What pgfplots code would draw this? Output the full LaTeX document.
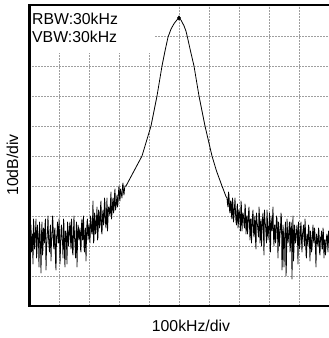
\documentclass[border=0pt]{standalone}
\usepackage{pgfplots}
\pgfplotsset{compat=1.18}
\usepackage{fontspec}
\setmainfont{Liberation Sans}

\begin{document}
\begin{tikzpicture}
\begin{axis}[
    scale only axis,
    width=300bp, height=300bp,
    xmin=0, xmax=300, ymin=0, ymax=100,
    xtick={30,60,...,270}, ytick={10,20,...,90},
    xticklabels={}, yticklabels={},
    major tick length=0pt,
    axis line style={draw=none},
    grid=major,
    major grid style={gray!75, line width=0.6bp, dash pattern=on 2bp off 1bp},
    clip=false,
]
% white label box over the grid
\fill[white] (rel axis cs:0,1) rectangle (axis cs:125,84.3);

% spectrum trace: left noise floor, peak, right noise floor (x in px, y in dB)
\addplot[black, line width=0.8bp, line join=round] coordinates {
(0,24) (0.5,21) (1,17) (1.5,26) (2,27) (2.5,18) (3,20) (3.5,24) (4,14) (4.5,29) (5,26) (5.5,19) (6,22) (6.5,25) (7,29) (7.5,16) (8,18) (8.5,27) (9,23) (9.5,22)
(10,13) (10.5,28) (11,25) (11.5,20) (12,11) (12.5,24) (13,28) (13.5,17) (14,19) (14.5,26) (15,24) (15.5,21) (16,27) (16.5,29) (17,12) (17.5,19) (18,22) (18.5,25) (19,30) (19.5,23)
(20,20) (20.5,18) (21,25) (21.5,27) (22,15) (22.5,22) (23,23) (23.5,30) (24,28) (24.5,20) (25,19) (25.5,25) (26,26) (26.5,15) (27,12) (27.5,23) (28,24) (28.5,28) (29,21) (29.5,21)
(30,29) (30.5,24) (31,14) (31.5,19) (32,25) (32.5,27) (33,22) (33.5,22) (34,16) (34.5,29) (35,27) (35.5,17) (36,13) (36.5,25) (37,24) (37.5,21) (38,14) (38.5,28) (39,26) (39.5,20)
(40,23) (40.5,26) (41,28) (41.5,22) (42,19) (42.5,29) (43,25) (43.5,18) (44,17) (44.5,25) (45,30) (45.5,23) (46,21) (46.5,16) (47,24) (47.5,28) (48,13) (48.5,21) (49,27) (49.5,26)
(50,22) (50.5,24) (51,26) (51.5,19) (52,18) (52.5,27) (53,29) (53.5,22) (54,23) (54.5,30) (55,20) (55.5,18) (56,25) (56.5,26) (57,15) (57.5,23) (58,28) (58.5,29) (59,22) (59.5,24)
(60,27) (60.5,23) (61,21) (61.5,30) (62,29) (62.5,25) (63,24) (63.5,28) (64,35) (64.5,21) (65,22) (65.5,31) (66,30) (66.5,24) (67,26) (67.5,29) (68,33) (68.5,22) (69,23) (69.5,32)
(70,31) (70.5,26) (71,27) (71.5,33) (72,35) (72.5,25) (73,24) (73.5,30) (74,32) (74.5,27) (75,28) (75.5,36) (76,34) (76.5,28) (77,26) (77.5,31) (78,36) (78.5,25) (79,29) (79.5,33)
(80,33) (80.5,31) (81,30) (81.5,35) (82,38) (82.5,29) (83,31) (83.5,34) (84,36) (84.5,31) (85,32) (85.5,37) (86,39) (86.5,32) (87,33) (87.5,35) (88,37) (88.5,33) (89,34) (89.5,38)
(90,40) (90.5,36) (91,35) (91.5,39) (92,38) (92.5,37) (93,36) (93.5,40) (94,41) (94.5,38) (95,37) (95.5,39) (96,40)
(97,40) (101,42.5) (105,45) (109,47.5) (113,50) (117.5,55) (122,60) (125,65)
(128,70) (130.5,75) (133,80) (136,85) (139,89.6) (142,92.3) (145,94.1) (148,95.4)
(150,96) (152,95.3) (155,93.4) (157,91.6) (158.5,89.5) (161.5,85) (165,80) (167.5,75)
(170,70) (173,65) (176,60) (179.5,55) (183,50) (187.5,45) (193,40) (197,36.5)
(198,36) (198.5,34) (199,33) (199.5,38) (200,37) (200.5,32) (201,31) (201.5,35) (202,35) (202.5,30) (203,29) (203.5,36) (204,34) (204.5,28) (205,30) (205.5,33) (206,36) (206.5,31) (207,28) (207.5,27)
(208,33) (208.5,34) (209,26) (209.5,28) (210,32) (210.5,31) (211,29) (211.5,25) (212,35) (212.5,33) (213,25) (213.5,29) (214,31) (214.5,30) (215,27) (215.5,26) (216,34) (216.5,32) (217,24) (217.5,28)
(218,30) (218.5,24) (219,27) (219.5,31) (220,33) (220.5,27) (221,22) (221.5,29) (222,29) (222.5,21) (223,26) (223.5,30) (224,32) (224.5,25) (225,23) (225.5,28) (226,30) (226.5,22) (227,19) (227.5,31)
(228,28) (228.5,27) (229,25) (229.5,23) (230,33) (230.5,30) (231,21) (231.5,26) (232,29) (232.5,20) (233,26) (233.5,29) (234,31) (234.5,24) (235,17) (235.5,32) (236,28) (236.5,27) (237,24) (237.5,21)
(238,32) (238.5,28) (239,22) (239.5,25) (240,27) (240.5,31) (241,19) (241.5,18) (242,30) (242.5,26) (243,25) (243.5,29) (244,33) (244.5,23) (245,20) (245.5,27) (246,27) (246.5,21) (247,23) (247.5,30)
(248,29) (248.5,25) (249,16) (249.5,28) (250,26) (250.5,20) (251,24) (251.5,26) (252,31) (252.5,29) (253,12) (253.5,17) (254,27) (254.5,24) (255,13) (255.5,22) (256,25) (256.5,28) (257,10) (257.5,15)
(258,29) (258.5,25) (259,21) (259.5,23) (260,26) (260.5,28) (261,18) (261.5,20) (262,28) (262.5,26) (263,9) (263.5,24) (264,30) (264.5,15) (265,19) (265.5,27) (266,25) (266.5,21) (267,22) (267.5,25)
(268,27) (268.5,23) (269,14) (269.5,28) (270,24) (270.5,19) (271,21) (271.5,26) (272,28) (272.5,22) (273,18) (273.5,24) (274,25) (274.5,27) (275,22) (275.5,20) (276,29) (276.5,25) (277,17) (277.5,16)
(278,24) (278.5,23) (279,20) (279.5,27) (280,26) (280.5,21) (281,15) (281.5,25) (282,23) (282.5,18) (283,19) (283.5,24) (284,27) (284.5,22) (285,21) (285.5,26) (286,24) (286.5,19) (287,13) (287.5,24)
(288,23) (288.5,21) (289,20) (289.5,26) (290,25) (290.5,18) (291,17) (291.5,23) (292,22) (292.5,25) (293,19) (293.5,19) (294,26) (294.5,24) (295,16) (295.5,22) (296,22) (296.5,17) (297,20) (297.5,23)
(298,24) (298.5,21) (299,18) (299.5,25) (300,21)
};
% peak marker
\addplot[only marks, mark=diamond*, mark size=2.2bp, black] coordinates {(150,96)};
\end{axis}

% frame (right side is cut off in the reference)
\draw[line width=2.6bp, line join=miter] (300bp,0) -- (0.5bp,0) -- (0.5bp,301bp) -- (300bp,301bp);

\node[anchor=base west, inner sep=0pt, font=\fontsize{15.8bp}{18bp}\selectfont] at (3bp,281bp) {RBW:30kHz};
\node[anchor=base west, inner sep=0pt, font=\fontsize{15.8bp}{18bp}\selectfont] at (3bp,263bp) {VBW:30kHz};
\node[anchor=base, rotate=90, inner sep=0pt, font=\fontsize{15.8bp}{18bp}\selectfont] at (-11bp,141bp) {10dB/div};
\node[anchor=base, inner sep=0pt, font=\fontsize{15.8bp}{18bp}\selectfont] at (162bp,-25bp) {100kHz/div};

\pgfresetboundingbox
\useasboundingbox (-29bp,-32bp) rectangle (300bp,306bp);
\end{tikzpicture}
\end{document}
